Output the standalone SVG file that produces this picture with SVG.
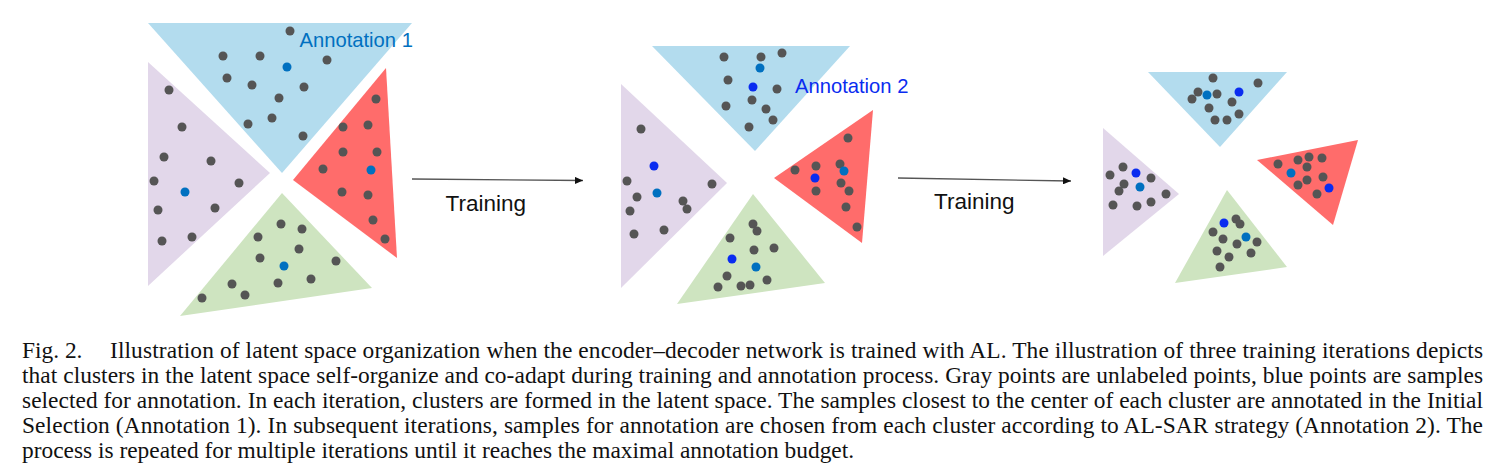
<svg xmlns="http://www.w3.org/2000/svg" width="1497" height="473" viewBox="0 0 1497 473">
<style>
.tb{fill:#B3DCEE}.tp{fill:#E2D7EA}.tr{fill:#FF6C6B}.tg{fill:#CEE4C0}
.g{fill:#555555}.lb{fill:#0070C0}.b{fill:#0A2CF0}
circle{r:4.5px}
.lab{font-family:"Liberation Sans",Arial,sans-serif;font-size:20.2px}
.tr-t{font-family:"Liberation Sans",Arial,sans-serif;font-size:22.5px;fill:#111}
.cap{font-family:"Liberation Serif","Times New Roman",serif;font-size:23.4px;fill:#111}
.conn{stroke:#555;stroke-width:1.3;fill:none}
</style>
<defs>
<marker id="ah" viewBox="0 0 10 10" refX="10" refY="5" markerWidth="8" markerHeight="7" markerUnits="userSpaceOnUse" orient="auto" preserveAspectRatio="none">
<path d="M0,0 L10,5 L0,10 Z" fill="#111"/>
</marker>
</defs>
<rect width="1497" height="473" fill="#fff"/>

<!-- Iteration 1 -->
<g id="it1-blue">
<polygon class="tb" points="148,23 412,23 282,173"/>
<circle class="g" cx="290" cy="31" r="4.5"/><circle class="g" cx="223" cy="56" r="4.5"/><circle class="g" cx="260" cy="56" r="4.5"/>
<circle class="lb" cx="287" cy="67" r="4.5"/><circle class="g" cx="327" cy="60" r="4.5"/><circle class="g" cx="227" cy="78" r="4.5"/>
<circle class="g" cx="252" cy="85" r="4.5"/><circle class="g" cx="304" cy="87" r="4.5"/><circle class="g" cx="279" cy="98" r="4.5"/>
<circle class="g" cx="248" cy="124" r="4.5"/><circle class="g" cx="272" cy="118" r="4.5"/><circle class="g" cx="303" cy="136" r="4.5"/>
</g>
<g id="it1-purple">
<polygon class="tp" points="148,62 270,173 148,286"/>
<circle class="g" cx="169" cy="90" r="4.5"/><circle class="g" cx="182" cy="127" r="4.5"/><circle class="g" cx="164" cy="157" r="4.5"/>
<circle class="g" cx="211" cy="161" r="4.5"/><circle class="g" cx="154" cy="181" r="4.5"/><circle class="lb" cx="185" cy="192" r="4.5"/>
<circle class="g" cx="239" cy="183" r="4.5"/><circle class="g" cx="158" cy="210" r="4.5"/><circle class="g" cx="215" cy="208" r="4.5"/>
<circle class="g" cx="162" cy="241" r="4.5"/><circle class="g" cx="192" cy="237" r="4.5"/>
</g>
<g id="it1-red">
<polygon class="tr" points="386,68 293,180 397,258"/>
<circle class="g" cx="376" cy="99" r="4.5"/><circle class="g" cx="343" cy="127" r="4.5"/><circle class="g" cx="368" cy="125" r="4.5"/>
<circle class="g" cx="343" cy="152" r="4.5"/><circle class="g" cx="377" cy="152" r="4.5"/><circle class="g" cx="323" cy="169" r="4.5"/>
<circle class="lb" cx="371" cy="170" r="4.5"/><circle class="g" cx="342" cy="192" r="4.5"/><circle class="g" cx="368" cy="195" r="4.5"/>
<circle class="g" cx="373" cy="220" r="4.5"/><circle class="g" cx="385" cy="239" r="4.5"/>
</g>
<g id="it1-green">
<polygon class="tg" points="282,193 180,316 372,288"/>
<circle class="g" cx="281" cy="224" r="4.5"/><circle class="g" cx="302" cy="229" r="4.5"/><circle class="g" cx="258" cy="237" r="4.5"/>
<circle class="g" cx="299" cy="249" r="4.5"/><circle class="g" cx="260" cy="258" r="4.5"/><circle class="lb" cx="284" cy="266" r="4.5"/>
<circle class="g" cx="336" cy="261" r="4.5"/><circle class="g" cx="311" cy="279" r="4.5"/><circle class="g" cx="278" cy="283" r="4.5"/>
<circle class="g" cx="232" cy="284" r="4.5"/><circle class="g" cx="245" cy="295" r="4.5"/><circle class="g" cx="202" cy="298" r="4.5"/>
</g>
<text id="annot1" class="lab" x="299.5" y="47.3" fill="#0070C0">Annotation 1</text>

<!-- Iteration 2 -->
<g id="it2-blue">
<polygon class="tb" points="652,46 850,46 755,151"/>
<circle class="g" cx="724" cy="57" r="4.5"/><circle class="g" cx="761" cy="57" r="4.5"/><circle class="g" cx="782" cy="53" r="4.5"/>
<circle class="lb" cx="760" cy="68" r="4.5"/><circle class="g" cx="728" cy="80" r="4.5"/><circle class="b" cx="753" cy="87" r="4.5"/>
<circle class="g" cx="777" cy="89" r="4.5"/><circle class="g" cx="726" cy="106" r="4.5"/><circle class="g" cx="752" cy="100" r="4.5"/>
<circle class="g" cx="766" cy="109" r="4.5"/><circle class="g" cx="773" cy="120" r="4.5"/><circle class="g" cx="749" cy="127" r="4.5"/>
</g>
<g id="it2-purple">
<polygon class="tp" points="621,84 727,183 621,288"/>
<circle class="g" cx="641" cy="129" r="4.5"/><circle class="b" cx="654" cy="166" r="4.5"/><circle class="g" cx="627" cy="181" r="4.5"/>
<circle class="g" cx="712" cy="184" r="4.5"/><circle class="g" cx="637" cy="197" r="4.5"/><circle class="lb" cx="657" cy="193" r="4.5"/>
<circle class="g" cx="683" cy="201" r="4.5"/><circle class="g" cx="687" cy="209" r="4.5"/><circle class="g" cx="630" cy="211" r="4.5"/>
<circle class="g" cx="634" cy="234" r="4.5"/><circle class="g" cx="664" cy="230" r="4.5"/>
</g>
<g id="it2-red">
<polygon class="tr" points="873,110 774,178 862,243"/>
<circle class="g" cx="848" cy="138" r="4.5"/><circle class="g" cx="795" cy="170" r="4.5"/><circle class="g" cx="816" cy="166" r="4.5"/>
<circle class="g" cx="840" cy="164" r="4.5"/><circle class="lb" cx="844" cy="171" r="4.5"/><circle class="b" cx="815" cy="178" r="4.5"/>
<circle class="g" cx="841" cy="183" r="4.5"/><circle class="g" cx="849" cy="191" r="4.5"/><circle class="g" cx="816" cy="191" r="4.5"/>
<circle class="g" cx="846" cy="207" r="4.5"/><circle class="g" cx="857" cy="227" r="4.5"/>
</g>
<g id="it2-green">
<polygon class="tg" points="753,194 677,304 825,283"/>
<circle class="g" cx="753" cy="224" r="4.5"/><circle class="g" cx="757" cy="231" r="4.5"/><circle class="g" cx="730" cy="238" r="4.5"/>
<circle class="g" cx="754" cy="250" r="4.5"/><circle class="g" cx="774" cy="248" r="4.5"/><circle class="b" cx="732" cy="259" r="4.5"/>
<circle class="lb" cx="756" cy="267" r="4.5"/><circle class="g" cx="727" cy="276" r="4.5"/><circle class="g" cx="767" cy="280" r="4.5"/>
<circle class="g" cx="718" cy="287" r="4.5"/><circle class="g" cx="741" cy="286" r="4.5"/><circle class="g" cx="750" cy="285" r="4.5"/>
</g>
<text id="annot2" class="lab" x="795" y="92.7" fill="#0A2CF0">Annotation 2</text>

<!-- Iteration 3 -->
<g id="it3-blue">
<polygon class="tb" points="1148,72 1287,72 1220,147"/>
<circle class="g" cx="1213" cy="78" r="4.5"/><circle class="g" cx="1258" cy="83" r="4.5"/><circle class="g" cx="1198" cy="92" r="4.5"/>
<circle class="g" cx="1192" cy="99" r="4.5"/><circle class="lb" cx="1207" cy="95" r="4.5"/><circle class="g" cx="1217" cy="94" r="4.5"/>
<circle class="b" cx="1239" cy="92" r="4.5"/><circle class="g" cx="1209" cy="108" r="4.5"/><circle class="g" cx="1232" cy="102" r="4.5"/>
<circle class="g" cx="1239" cy="114" r="4.5"/><circle class="g" cx="1215" cy="120" r="4.5"/><circle class="g" cx="1227" cy="120" r="4.5"/>
</g>
<g id="it3-purple">
<polygon class="tp" points="1103,128 1179,194 1103,256"/>
<circle class="g" cx="1123" cy="167" r="4.5"/><circle class="g" cx="1110" cy="175" r="4.5"/><circle class="b" cx="1136" cy="173" r="4.5"/>
<circle class="g" cx="1151" cy="178" r="4.5"/><circle class="g" cx="1124" cy="184" r="4.5"/><circle class="lb" cx="1140" cy="187" r="4.5"/>
<circle class="g" cx="1119" cy="191" r="4.5"/><circle class="g" cx="1166" cy="194" r="4.5"/><circle class="g" cx="1113" cy="205" r="4.5"/>
<circle class="g" cx="1137" cy="206" r="4.5"/><circle class="g" cx="1151" cy="202" r="4.5"/>
</g>
<g id="it3-red">
<polygon class="tr" points="1358,140 1257,160 1333,225"/>
<circle class="g" cx="1278" cy="164" r="4.5"/><circle class="g" cx="1298" cy="160" r="4.5"/><circle class="g" cx="1309" cy="157" r="4.5"/>
<circle class="g" cx="1322" cy="158" r="4.5"/><circle class="g" cx="1307" cy="167" r="4.5"/><circle class="lb" cx="1291" cy="173" r="4.5"/>
<circle class="g" cx="1323" cy="177" r="4.5"/><circle class="g" cx="1307" cy="180" r="4.5"/><circle class="g" cx="1298" cy="185" r="4.5"/>
<circle class="b" cx="1329" cy="188" r="4.5"/><circle class="g" cx="1317" cy="194" r="4.5"/>
</g>
<g id="it3-green">
<polygon class="tg" points="1227,190 1175,283 1287,267"/>
<circle class="b" cx="1224" cy="223" r="4.5"/><circle class="g" cx="1236" cy="219" r="4.5"/><circle class="g" cx="1240" cy="224" r="4.5"/>
<circle class="g" cx="1213" cy="232" r="4.5"/><circle class="g" cx="1223" cy="239" r="4.5"/><circle class="g" cx="1237" cy="244" r="4.5"/>
<circle class="lb" cx="1246" cy="237" r="4.5"/><circle class="g" cx="1257" cy="242" r="4.5"/><circle class="g" cx="1217" cy="251" r="4.5"/>
<circle class="g" cx="1251" cy="253" r="4.5"/><circle class="g" cx="1229" cy="257" r="4.5"/><circle class="g" cx="1220" cy="267" r="4.5"/>
</g>

<!-- Connectors -->
<g id="connectors">
<line class="conn" x1="412" y1="179" x2="583" y2="180.5" marker-end="url(#ah)"/>
<line class="conn" x1="898" y1="178" x2="1071" y2="181" marker-end="url(#ah)"/>
<text class="tr-t" x="445.5" y="211">Training</text>
<text class="tr-t" x="934" y="209">Training</text>
</g>

<!-- Caption -->
<g id="caption" class="cap">
<text x="22" y="358.2">Fig. 2.</text>
<text x="110" y="358.2" textLength="1373" lengthAdjust="spacing">Illustration of latent space organization when the encoder–decoder network is trained with AL. The illustration of three training iterations depicts</text>
<text x="22" y="383.1" textLength="1461" lengthAdjust="spacing">that clusters in the latent space self-organize and co-adapt during training and annotation process. Gray points are unlabeled points, blue points are samples</text>
<text x="22" y="408" textLength="1461" lengthAdjust="spacing">selected for annotation. In each iteration, clusters are formed in the latent space. The samples closest to the center of each cluster are annotated in the Initial</text>
<text x="22" y="432.9" textLength="1461" lengthAdjust="spacing">Selection (Annotation 1). In subsequent iterations, samples for annotation are chosen from each cluster according to AL-SAR strategy (Annotation 2). The</text>
<text x="22" y="457.8">process is repeated for multiple iterations until it reaches the maximal annotation budget.</text>
</g>
</svg>
